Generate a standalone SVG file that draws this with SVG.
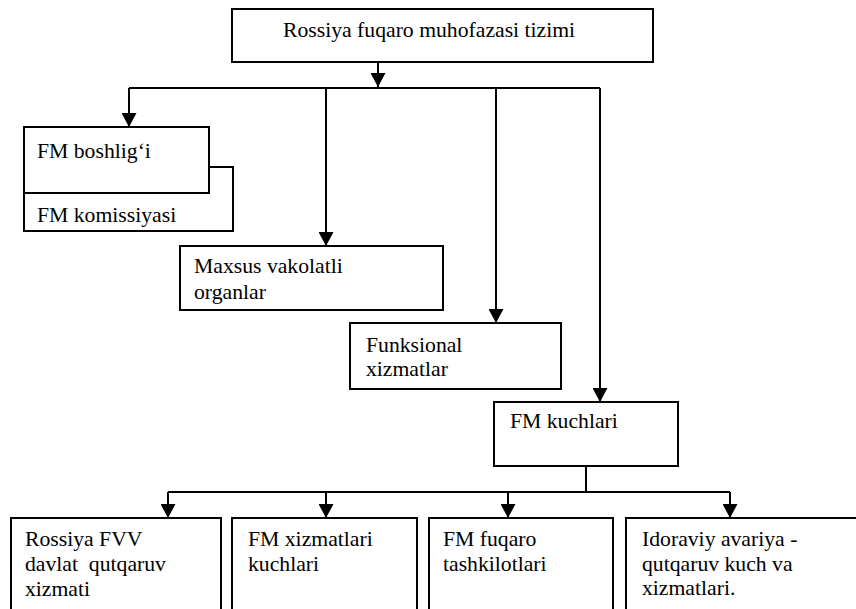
<svg xmlns="http://www.w3.org/2000/svg" width="856" height="609" viewBox="0 0 856 609">
<style>
.box{fill:#fff;stroke:#000;stroke-width:2}
.ln{fill:none;stroke:#000;stroke-width:2}
text{font-family:"Liberation Serif","Times New Roman",serif;font-size:21.7px;fill:#000;white-space:pre}
</style>
<defs>
<marker id="ah" markerUnits="userSpaceOnUse" markerWidth="14" markerHeight="15" refX="14" refY="7.5" orient="auto" viewBox="0 0 14 15">
<path d="M0,0 L14,7.5 L0,15 Z" fill="#000"/>
</marker>
</defs>
<rect width="856" height="609" fill="#fff"/>
<g id="connectors">
<path class="ln" d="M378,62 V87" marker-end="url(#ah)"/>
<path class="ln" d="M129,88 H600"/>
<path class="ln" d="M129,88 V127" marker-end="url(#ah)"/>
<path class="ln" d="M326,88 V246" marker-end="url(#ah)"/>
<path class="ln" d="M496,88 V323" marker-end="url(#ah)"/>
<path class="ln" d="M600,88 V402" marker-end="url(#ah)"/>
<path class="ln" d="M586,466 V492"/>
<path class="ln" d="M168,492 H730"/>
<path class="ln" d="M168,492 V518" marker-end="url(#ah)"/>
<path class="ln" d="M326,492 V518" marker-end="url(#ah)"/>
<path class="ln" d="M508,492 V518" marker-end="url(#ah)"/>
<path class="ln" d="M730,492 V518" marker-end="url(#ah)"/>
</g>
<g id="n-top">
<rect class="box" x="232" y="9" width="421" height="53"/>
<text x="283" y="37" font-family="Liberation Serif, serif">Rossiya fuqaro muhofazasi tizimi</text>
</g>
<g id="n-komissiya">
<rect class="box" x="24" y="167" width="209" height="64"/>
<text x="37" y="222" font-family="Liberation Serif, serif">FM komissiyasi</text>
</g>
<g id="n-boshliq">
<rect class="box" x="24" y="127" width="185" height="66"/>
<text x="37" y="158" font-family="Liberation Serif, serif">FM boshlig‘i</text>
</g>
<g id="n-maxsus">
<rect class="box" x="180" y="246" width="263" height="64"/>
<text x="194" y="273" font-family="Liberation Serif, serif">Maxsus vakolatli</text>
<text x="194" y="299" font-family="Liberation Serif, serif">organlar</text>
</g>
<g id="n-funksional">
<rect class="box" x="350" y="323" width="211" height="66"/>
<text x="366" y="352" font-family="Liberation Serif, serif">Funksional</text>
<text x="366" y="376" font-family="Liberation Serif, serif">xizmatlar</text>
</g>
<g id="n-kuchlari">
<rect class="box" x="494" y="402" width="184" height="64"/>
<text x="510" y="428" font-family="Liberation Serif, serif">FM kuchlari</text>
</g>
<g id="n-fvv">
<rect class="box" x="11" y="518" width="210" height="120"/>
<text x="25" y="546" font-family="Liberation Serif, serif">Rossiya FVV</text>
<text x="25" y="571" font-family="Liberation Serif, serif">davlat  qutqaruv</text>
<text x="25" y="596" font-family="Liberation Serif, serif">xizmati</text>
</g>
<g id="n-xizmatlar">
<rect class="box" x="232" y="518" width="185" height="120"/>
<text x="248" y="546" font-family="Liberation Serif, serif">FM xizmatlari</text>
<text x="248" y="571" font-family="Liberation Serif, serif">kuchlari</text>
</g>
<g id="n-fuqaro">
<rect class="box" x="429" y="518" width="184" height="120"/>
<text x="443" y="546" font-family="Liberation Serif, serif">FM fuqaro</text>
<text x="443" y="571" font-family="Liberation Serif, serif">tashkilotlari</text>
</g>
<g id="n-idoraviy">
<rect class="box" x="626" y="518" width="250" height="120"/>
<text x="642" y="546" font-family="Liberation Serif, serif">Idoraviy avariya -</text>
<text x="642" y="571" font-family="Liberation Serif, serif">qutqaruv kuch va</text>
<text x="642" y="595" font-family="Liberation Serif, serif">xizmatlari.</text>
</g>
</svg>
